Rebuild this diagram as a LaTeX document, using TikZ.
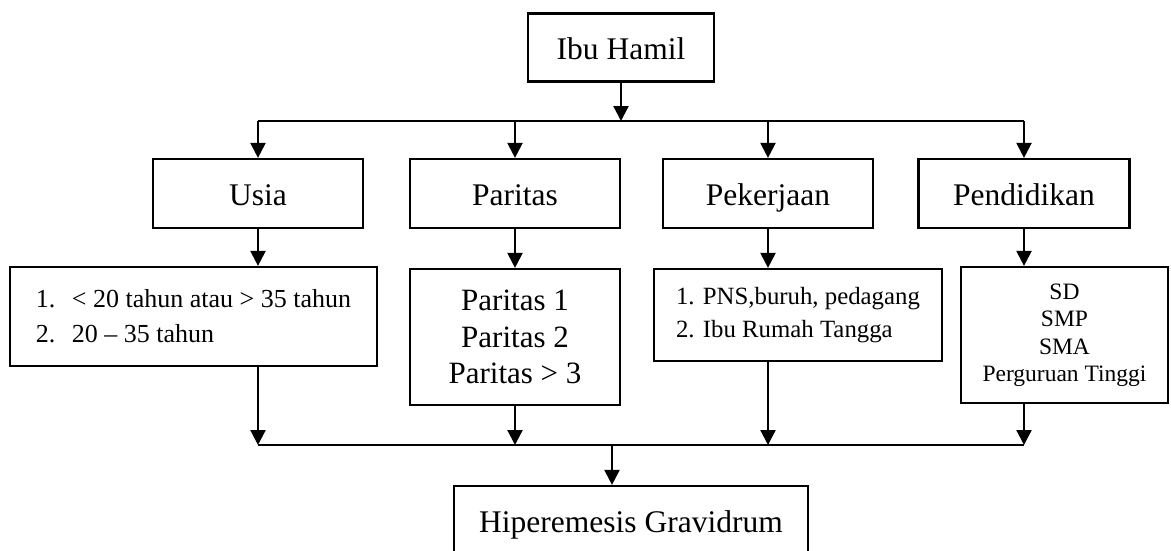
\documentclass[tikz,border=0pt]{standalone}
\usepackage{fontspec}
\setmainfont{Liberation Serif}
\usetikzlibrary{arrows.meta}
\begin{document}
\begin{tikzpicture}[x=1pt,y=-1pt,
  box/.style={draw,line width=2.2pt,rectangle,inner sep=0pt,
    font=\fontsize{31.5}{36}\selectfont},
  one/.style={box,text height=25pt,text depth=2pt},
  ln/.style={line width=2.2pt},
  arr/.style={line width=2.2pt,-{Triangle[length=15pt,width=15pt]}}]
\useasboundingbox (0,0) rectangle (1171,550);
\fill[white] (0,0) rectangle (1171,550);
% top
\node[one,minimum width=186,minimum height=68] (ibu) at (621,47.5) {Ibu Hamil};
\coordinate (jt) at (621,121);
\coordinate (tl) at (258,121);
\coordinate (tr) at (1024,121);
% second row
\node[one,minimum width=210,minimum height=69] (usia) at (258,193.5) {Usia};
\node[one,minimum width=210,minimum height=69] (par) at (515,193.5) {Paritas};
\node[one,minimum width=210,minimum height=69] (pek) at (768,193.5) {Pekerjaan};
\node[one,minimum width=211,minimum height=69] (pend) at (1024,193.5) {Pendidikan};
% third row
\node[box,minimum width=367,minimum height=99,align=left,
  font=\fontsize{26}{35}\selectfont] (usial) at (193.5,316.5)
  {\makebox[36pt][l]{1.}< 20 tahun atau > 35 tahun\\\makebox[36pt][l]{2.}20 – 35 tahun};
\node[box,minimum width=210,minimum height=136,align=center,
  font=\fontsize{31}{36.5}\selectfont] (parl) at (515,337)
  {Paritas 1\\Paritas 2\\Paritas > 3};
\node[box,minimum width=288,minimum height=92,align=left,
  font=\fontsize{24.8}{33}\selectfont] (pekl) at (798,315)
  {1. PNS,buruh, pedagang\\2. Ibu Rumah Tangga};
\node[box,minimum width=207,minimum height=136,align=center,
  font=\fontsize{23.5}{27.5}\selectfont] (pendl) at (1064.5,335)
  {SD\\SMP\\SMA\\Perguruan Tinggi};
% bottom
\coordinate (bl) at (258,445);
\coordinate (br) at (1024,445);
\coordinate (jb) at (612,445);
\node[one,minimum width=354,minimum height=70] (hip) at (631,521) {Hiperemesis Gravidrum};
% connectors
\draw[arr] (ibu.south) -- (jt);
\draw[ln] (tl) -- (tr);
\draw[arr] (tl) -- (usia.north);
\draw[arr] (par.north |- jt) -- (par.north);
\draw[arr] (pek.north |- jt) -- (pek.north);
\draw[arr] (tr) -- (pend.north);
\draw[arr] (usia.south) -- (usia.south |- usial.north);
\draw[arr] (par.south) -- (parl.north);
\draw[arr] (pek.south) -- (pek.south |- pekl.north);
\draw[arr] (pend.south) -- (pend.south |- pendl.north);
\draw[arr] (usia.south |- usial.south) -- (bl);
\draw[arr] (parl.south) -- (parl.south |- jb);
\draw[arr] (pek.south |- pekl.south) -- (pek.south |- jb);
\draw[arr] (pend.south |- pendl.south) -- (br);
\draw[ln] (bl) -- (br);
\draw[arr] (jb) -- (jb |- hip.north);
\end{tikzpicture}
\end{document}
